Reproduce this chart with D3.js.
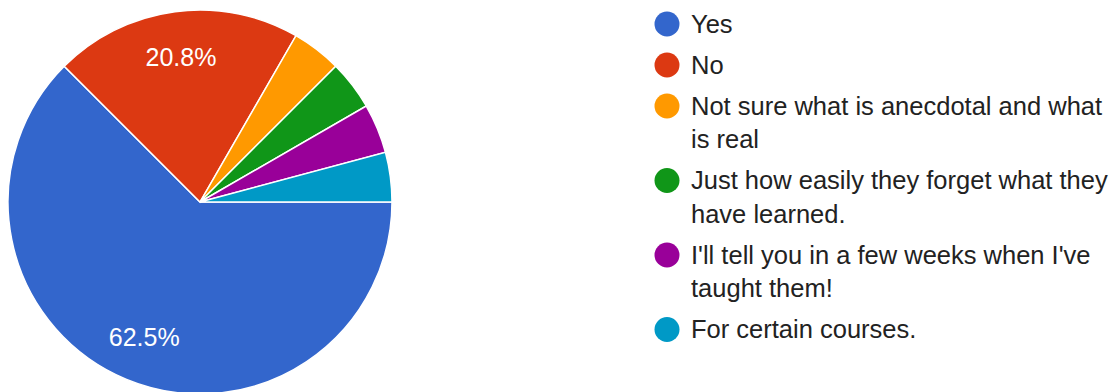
<!DOCTYPE html>
<html>
<head>
<meta charset="utf-8">
<script src="https://cdn.jsdelivr.net/npm/d3@7"></script>
<style>
  body { margin: 0; background: #fff; }
  svg text { font-family: "Liberation Sans", Arial, sans-serif; }
</style>
</head>
<body>
<svg id="chart" width="1115" height="392"></svg>
<script>
// answers in the order shown in the legend
const categories = [
  "Yes",
  "No",
  "Not sure what is anecdotal and what is real",
  "Just how easily they forget what they have learned.",
  "I'll tell you in a few weeks when I've taught them!",
  "For certain courses."
];
const counts = [15, 5, 1, 1, 1, 1];
const colors = ["#3366cc", "#dc3912", "#ff9900", "#109618", "#990099", "#0099c6"];

const width = 1115, height = 392;
const cx = 200, cy = 202, radius = 192;

const svg = d3.select("#chart");
const data = categories.map((c, i) => ({ label: c, value: counts[i] }));
const total = d3.sum(counts);
const fmt = d3.format(".1%");

// pie starts at 3 o'clock and runs clockwise
const pie = d3.pie().value(d => d.value).sort(null)
  .startAngle(Math.PI / 2).endAngle(Math.PI / 2 + 2 * Math.PI);

const arc = d3.arc().innerRadius(0).outerRadius(radius);
const labelArc = d3.arc().innerRadius(radius * 0.76).outerRadius(radius * 0.76);

const g = svg.append("g").attr("transform", "translate(" + cx + "," + cy + ")");

g.selectAll("path")
  .data(pie(data))
  .enter()
  .append("path")
  .attr("d", arc)
  .attr("fill", (d, i) => colors[i])
  .attr("stroke", "#fff")
  .attr("stroke-width", 1.5);

// only the big slices get a percentage label
g.selectAll("text.pct")
  .data(pie(data).filter(d => d.endAngle - d.startAngle > 0.5))
  .enter()
  .append("text")
  .attr("class", "pct")
  .attr("transform", d => "translate(" + labelArc.centroid(d) + ")")
  .attr("dy", "0.35em")
  .attr("text-anchor", "middle")
  .attr("fill", "#fff")
  .style("font-size", "25px")
  .text(d => fmt(d.value / total));

// legend
const legendX = 667, textX = 691, maxW = 422;
const lineH = 33.5, gap = 7.5;
let y = 24;

data.forEach((d, i) => {
  const item = svg.append("g");
  item.append("circle")
    .attr("cx", legendX).attr("cy", y).attr("r", 12.5)
    .attr("fill", colors[i]);

  const text = item.append("text")
    .attr("x", textX)
    .attr("y", y + 8.5)
    .attr("fill", "#222")
    .style("font-size", "25.5px");

  // simple word wrap
  const words = d.label.split(" ");
  let line = [];
  let lines = 1;
  let tspan = text.append("tspan").attr("x", textX).attr("dy", 0);
  words.forEach(w => {
    line.push(w);
    tspan.text(line.join(" "));
    if (tspan.node().getComputedTextLength() > maxW && line.length > 1) {
      line.pop();
      tspan.text(line.join(" "));
      line = [w];
      lines++;
      tspan = text.append("tspan").attr("x", textX).attr("dy", lineH).text(w);
    }
  });
  y += lines * lineH + gap;
});
</script>
</body>
</html>
